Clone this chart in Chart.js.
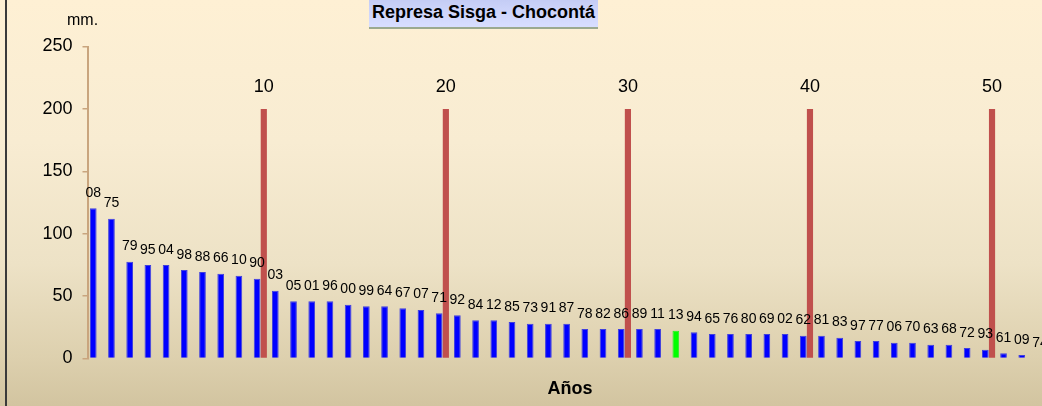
<!DOCTYPE html>
<html>
<head>
<meta charset="utf-8">
<script src="https://cdn.jsdelivr.net/npm/chart.js@4.4.1/dist/chart.umd.min.js"></script>
<style>
  html, body { margin:0; padding:0; width:1042px; height:406px; overflow:hidden; }
  body { position:relative; background: linear-gradient(to bottom, #FEF0D4 0%, #F8ECD2 35%, #EDE2C6 65%, #DDD0AE 88%, #D2C4A0 100%); font-family: 'Liberation Sans', Arial, sans-serif; }
  #wrap { position:absolute; left:0; top:0; width:1060px; height:406px; }
  #frameLeft { position:absolute; left:5px; top:0; width:2px; height:406px; background:#3a3a3a; }
  #titleBox { position:absolute; left:369px; top:-6px; width:229px; border-bottom:2px solid #9BA98F;
    background: linear-gradient(to bottom, #BFC8F2 0%, #CDD4FA 50%, #D8DEFF 100%);
    font: bold 18px 'Liberation Sans', Arial, sans-serif; color:#000; text-align:center; line-height:20px; padding-top:8px; box-sizing:border-box; height:35px; white-space:nowrap; }
</style>
</head>
<body>
<div id="wrap"><canvas id="c" width="1060" height="406"></canvas></div>
<div id="frameLeft"></div>
<div id="titleBox">Represa Sisga - Chocontá</div>
<script>
// Years (two-digit) sorted by value, descending
const years = ['08','75','79','95','04','98','88','66','10','90',
               '03','05','01','96','00','99','64','67','07','71',
               '92','84','12','85','73','91','87','78','82','86',
               '89','11','13','94','65','76','80','69','02','62',
               '81','83','97','77','06','70','63','68','72','93',
               '61','09','74'];
// Precipitation (mm.)
const precip = [120.4,112.0,77.6,74.9,74.9,70.9,69.3,67.9,66.3,63.9,
                54.3,45.8,45.8,45.8,43.1,41.8,41.8,40.2,38.9,36.2,
                34.6,30.6,30.6,29.2,27.9,27.9,27.9,23.6,23.6,23.6,
                23.6,23.6,22.3,21.0,19.6,19.6,19.6,19.6,19.6,18.3,
                18.3,16.7,14.0,14.0,12.7,12.7,11.1,11.1,8.4,7.1,
                4.2,2.8,0];
const highlightYear = '13';
// Rank markers
const markerRanks = [10,20,30,40,50];
const markerValue = 200;
const yTicks = [0,50,100,150,200,250];

const blueFill = years.map(y => y === highlightYear ? '#00FF00' : '#0000FF');
const blueBorder = years.map(y => y === highlightYear ? '#22F022' : '#4040DD');
const markerData = years.map((y,i) => markerRanks.includes(i+1) ? markerValue : null);

const FONT = "'Liberation Sans', Arial, sans-serif";

const labelPlugin = {
  id:'labels',
  afterDatasetsDraw(chart){
    const ctx = chart.ctx;
    ctx.save();
    ctx.fillStyle = '#000';
    ctx.textAlign = 'center';
    ctx.textBaseline = 'alphabetic';
    ctx.font = '14px ' + FONT;
    chart.getDatasetMeta(0).data.forEach((bar,i) => {
      ctx.fillText(years[i], bar.x, bar.y - 11.5);
    });
    ctx.font = '18px ' + FONT;
    chart.getDatasetMeta(1).data.forEach((bar,i) => {
      if (markerData[i] !== null) ctx.fillText(String(i+1), bar.x, bar.y - 16.5);
    });
    ctx.font = '16px ' + FONT;
    ctx.textAlign = 'left';
    ctx.fillText('mm.', 67, 25);
    ctx.restore();
  }
};

new Chart(document.getElementById('c'), {
  type:'bar',
  data:{
    labels: years,
    datasets:[
      { data: precip, backgroundColor: blueFill, borderColor: blueBorder, borderWidth: 1,
        categoryPercentage: 0.736, barPercentage: 1.0 },
      { data: markerData, backgroundColor:'#C0504D', borderWidth:0,
        categoryPercentage: 0.736, barPercentage: 0.92 }
    ]
  },
  options:{
    responsive:false,
    animation:false,
    events:[],
    layout:{ padding:{ left:0, right:7.6, top:46.5, bottom:0 } },
    plugins:{ legend:{display:false}, tooltip:{enabled:false}, title:{display:false} },
    scales:{
      x:{
        type:'category',
        ticks:{ display:false },
        grid:{ display:false },
        border:{ display:false },
        title:{ display:true, text:'Años', color:'#000', font:{ family:FONT, size:18, weight:'bold' }, padding:{ top:0, bottom:6 } },
        afterFit(s){ s.height = 47.5; }
      },
      y:{
        min:0, max:250,
        afterBuildTicks(s){ s.ticks = yTicks.map(v => ({value:v})); },
        ticks:{ color:'#000', font:{ family:FONT, size:18 }, padding:10 },
        grid:{ drawOnChartArea:false, drawTicks:true, tickLength:5, color:'#C9A57E', lineWidth:1.5 },
        border:{ display:true, color:'#C9A57E', width:2 },
        afterFit(s){ s.width = 87.5; }
      }
    }
  },
  plugins:[labelPlugin]
});
</script>
</body>
</html>
